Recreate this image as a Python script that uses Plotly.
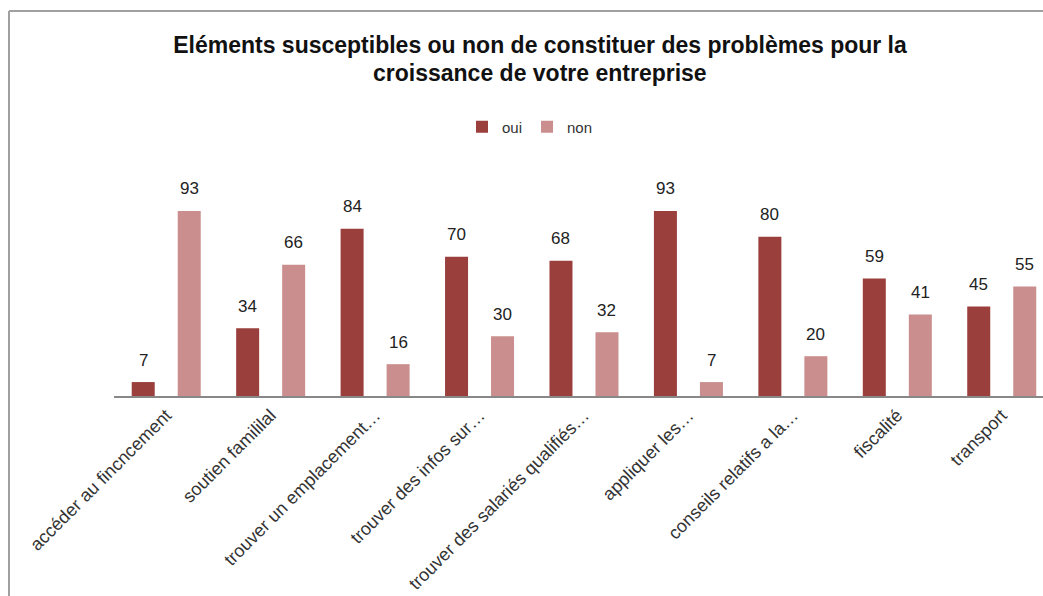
import plotly.graph_objects as go

categories = ["accéder au fincncement", "soutien famililal", "trouver un emplacement…",
              "trouver des infos sur…", "trouver des salariés qualifiés…", "appliquer les…",
              "conseils relatifs a la…", "fiscalité", "transport"]
oui = [7, 34, 84, 70, 68, 93, 80, 59, 45]
non = [93, 66, 16, 30, 32, 7, 20, 41, 55]
title_lines = ["Eléments susceptibles ou non de constituer des problèmes pour la",
               "croissance de votre entreprise"]

OUI_COLOR = "#9b3f3d"
NON_COLOR = "#c98e8d"
FONT = "Liberation Sans, Arial"

fig = go.Figure()
fig.add_trace(go.Bar(name="oui", x=categories, y=oui, marker_color=OUI_COLOR, marker_line_width=0))
fig.add_trace(go.Bar(name="non", x=categories, y=non, marker_color=NON_COLOR, marker_line_width=0))

annotations = []
for series, off in ((oui, 0), (non, 1)):
    for i, v in enumerate(series):
        annotations.append(dict(x=i, y=v, xref="x", yref="y", text=str(v), showarrow=False,
                                xshift=-23 if off == 0 else 23, yshift=22, yanchor="middle",
                                font=dict(size=17, color="#222222", family=FONT)))
# second title line
annotations.append(dict(x=(540 - 114) / 929, y=(396 - 73) / 199, xref="paper", yref="paper",
                        text="<b>" + title_lines[1] + "</b>", showarrow=False,
                        xanchor="center", yanchor="middle",
                        font=dict(size=23, color="#111111", family=FONT)))

fig.update_layout(
    width=1043, height=596,
    margin=dict(l=114, r=0, t=197, b=200),
    paper_bgcolor="white", plot_bgcolor="white",
    barmode="group", bargap=0.119, bargroupgap=0.5,
    title=dict(text="<b>" + title_lines[0] + "</b>",
               x=540 / 1043, xanchor="center", y=1 - 45 / 596, yanchor="middle",
               font=dict(size=23, color="#111111", family=FONT)),
    font=dict(family=FONT, color="#333333"),
    legend=dict(orientation="h", x=(530 - 114) / 929, xanchor="center", y=1 - 127 / 596,
                yref="container", yanchor="middle", itemwidth=30,
                font=dict(size=15, color="#333333")),
    showlegend=True,
    annotations=annotations,
    shapes=[
        dict(type="line", xref="paper", yref="paper", x0=(9 - 114) / 929, x1=1.05,
             y0=(396 - 11) / 199, y1=(396 - 11) / 199, line=dict(color="#a0a0a0", width=2)),
        dict(type="line", xref="paper", yref="paper", x0=(9 - 114) / 929, x1=(9 - 114) / 929,
             y0=(396 - 11) / 199, y1=-1.1, line=dict(color="#a0a0a0", width=2)),
    ],
)
fig.update_xaxes(range=[-0.5, 8.395], showline=True, linecolor="#888888", linewidth=1.5,
                 ticks="", tickangle=-45, tickfont=dict(size=18, color="#333333"),
                 showgrid=False)
fig.update_yaxes(range=[0, 100], visible=False, showgrid=False)

fig.write_html("out.html")
